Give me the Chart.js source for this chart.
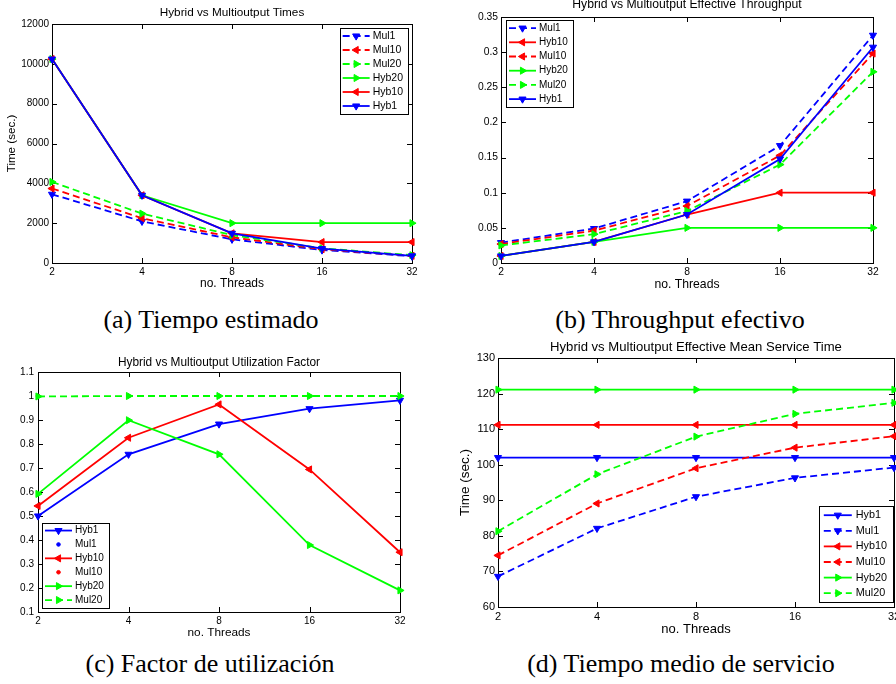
<!DOCTYPE html>
<html>
<head>
<meta charset="utf-8">
<script src="https://cdn.jsdelivr.net/npm/chart.js@4.4.1/dist/chart.umd.min.js"></script>
<style>
  html, body { margin: 0; padding: 0; background: #fff; overflow: hidden; }
  body { position: relative; width: 896px; height: 684px; }
  canvas { position: absolute; }
  .caption {
    position: absolute; width: 400px; text-align: center;
    font-family: "Liberation Serif", "DejaVu Serif", serif;
    font-size: 26px; line-height: 30px; color: #000; white-space: nowrap;
  }
</style>
</head>
<body>
<canvas id="timesChart" width="448" height="300" style="left:0;top:0"></canvas>
<canvas id="throughputChart" width="448" height="303" style="left:448px;top:-3px"></canvas>
<canvas id="utilizationChart" width="448" height="300" style="left:0;top:340px"></canvas>
<canvas id="serviceChart" width="460" height="302" style="left:448px;top:338px"></canvas>

<div class="caption" style="left:11px;top:305px">(a) Tiempo estimado</div>
<div class="caption" style="left:480px;top:305px">(b) Throughput efectivo</div>
<div class="caption" style="left:10px;top:649px">(c) Factor de utilización</div>
<div class="caption" style="left:481px;top:649px">(d) Tiempo medio de servicio</div>

<script>
const threads = ['2', '4', '8', '16', '32'];

// (a) estimated time (sec.)
const timeMul1 = [3450, 2090, 1190, 650, 340];
const timeMul10 = [3740, 2250, 1290, 690, 360];
const timeMul20 = [4070, 2480, 1400, 740, 390];
const timeHyb20 = [10240, 3400, 2000, 2000, 2000];
const timeHyb10 = [10240, 3400, 1490, 1050, 1050];
const timeHyb1 = [10240, 3400, 1490, 720, 360];

// (b) effective throughput
const thrMul1 = [0.029, 0.049, 0.088, 0.167, 0.324];
const thrHyb10 = [0.01, 0.03, 0.069, 0.1, 0.1];
const thrMul10 = [0.027, 0.046, 0.081, 0.153, 0.298];
const thrHyb20 = [0.01, 0.03, 0.05, 0.05, 0.05];
const thrMul20 = [0.025, 0.041, 0.074, 0.14, 0.272];
const thrHyb1 = [0.01, 0.03, 0.069, 0.148, 0.307];

// (c) utilization factor
const utilHyb1 = [0.5, 0.757, 0.883, 0.947, 0.982];
const utilMul1 = [1, 1, 1, 1, 1];
const utilHyb10 = [0.542, 0.826, 0.965, 0.694, 0.349];
const utilMul10 = [1, 1, 1, 1, 1];
const utilHyb20 = [0.592, 0.899, 0.757, 0.379, 0.19];
const utilMul20 = [0.998, 1, 1, 1, 1];

// (d) effective mean service time (sec.)
const svcHyb1 = [102, 102, 102, 102, 102];
const svcMul1 = [68.6, 82.1, 91.0, 96.3, 99.2];
const svcHyb10 = [111.2, 111.2, 111.2, 111.2, 111.2];
const svcMul10 = [74.5, 89.1, 99.0, 104.8, 108.0];
const svcHyb20 = [121.1, 121.1, 121.1, 121.1, 121.1];
const svcMul20 = [81.3, 97.3, 107.9, 114.3, 117.4];

const BLUE = '#0000ff', RED = '#ff0000', GREEN = '#00ff00';
const SANS = '"Liberation Sans", Arial, Helvetica, sans-serif';

const markerRotation = { down: 180, left: 270, right: 90 };

function series(label, data, color, marker, dashed) {
  const dot = marker === 'dot';
  return {
    label: label,
    data: data,
    borderColor: color,
    backgroundColor: color,
    pointBackgroundColor: color,
    pointBorderColor: color,
    pointBorderWidth: 1,
    borderWidth: 1.8,
    borderDash: dashed ? [7, 4] : [],
    showLine: !dot,
    pointStyle: dot ? 'circle' : 'triangle',
    pointRotation: dot ? 0 : markerRotation[marker],
    pointRadius: dot ? 1.8 : 4.1,
    tension: 0,
    clip: false,
  };
}

// box around the plot with inward tick marks on all four sides
const boxAxesPlugin = {
  id: 'boxAxes',
  beforeDatasetsDraw(chart) {
    const { ctx, chartArea: a, scales } = chart;
    const len = 5;
    ctx.save();
    ctx.strokeStyle = '#000';
    ctx.lineWidth = 1;
    ctx.beginPath();
    scales.x.ticks.forEach((t, i) => {
      const px = Math.round(scales.x.getPixelForTick(i)) + 0.5;
      ctx.moveTo(px, a.bottom); ctx.lineTo(px, a.bottom - len);
      ctx.moveTo(px, a.top); ctx.lineTo(px, a.top + len);
    });
    scales.y.ticks.forEach((t, i) => {
      const py = Math.round(scales.y.getPixelForTick(i)) + 0.5;
      ctx.moveTo(a.left, py); ctx.lineTo(a.left + len, py);
      ctx.moveTo(a.right, py); ctx.lineTo(a.right - len, py);
    });
    ctx.stroke();
    ctx.strokeRect(Math.round(a.left) + 0.5, Math.round(a.top) + 0.5,
      Math.round(a.width), Math.round(a.height));
    ctx.restore();
  }
};

// legend box drawn inside the plot area
const insetLegendPlugin = {
  id: 'insetLegend',
  afterDraw(chart, args, opts) {
    const { ctx, chartArea: a } = chart;
    const sets = chart.data.datasets;
    ctx.save();
    ctx.font = opts.fontSize + 'px ' + SANS;
    const textW = Math.max(...sets.map(d => ctx.measureText(d.label).width));
    const rowH = opts.rowHeight;
    const w = opts.padLeft + opts.sample + opts.gap + textW + opts.padRight;
    const h = rowH * sets.length + opts.padV;
    const x = opts.corner.includes('e') ? a.right - opts.dx - w : a.left + opts.dx;
    const y = opts.corner.includes('n') ? a.top + opts.dy : a.bottom - opts.dy - h;
    ctx.fillStyle = '#fff';
    ctx.fillRect(x, y, w, h);
    ctx.strokeStyle = '#000';
    ctx.lineWidth = 1;
    ctx.strokeRect(Math.round(x) + 0.5, Math.round(y) + 0.5, Math.round(w), Math.round(h));
    sets.forEach((d, i) => {
      const cy = y + opts.padV / 2 + rowH * (i + 0.5);
      const x0 = x + opts.padLeft, x1 = x0 + opts.sample;
      if (d.showLine !== false) {
        ctx.setLineDash(d.borderDash);
        ctx.strokeStyle = d.borderColor;
        ctx.lineWidth = d.borderWidth;
        ctx.beginPath(); ctx.moveTo(x0, cy); ctx.lineTo(x1, cy); ctx.stroke();
        ctx.setLineDash([]);
      }
      ctx.fillStyle = d.pointBackgroundColor;
      ctx.strokeStyle = d.pointBorderColor;
      ctx.lineWidth = 1;
      Chart.helpers.drawPoint(ctx, {
        pointStyle: d.pointStyle, rotation: d.pointRotation,
        radius: d.pointRadius, borderWidth: 1
      }, (x0 + x1) / 2, cy);
      ctx.fillStyle = '#000';
      ctx.textBaseline = 'middle';
      ctx.textAlign = 'left';
      ctx.fillText(d.label, x1 + opts.gap, cy);
    });
    ctx.restore();
  }
};

// cfg.titleY / cfg.plotTop are canvas coordinates of the title centre and the plot top
function makeChart(canvasId, cfg) {
  const canvas = document.getElementById(canvasId);
  if (!canvas) return;
  const f = cfg.fonts;
  const titleTop = cfg.titleY - 0.6 * f.title;
  const titleBottom = cfg.plotTop - titleTop - 1.2 * f.title;
  const sets = cfg.datasets.map((d, i, arr) => Object.assign(d, { order: arr.length - i }));
  return new Chart(canvas.getContext('2d'), {
    type: 'line',
    data: { labels: threads, datasets: sets },
    options: {
      responsive: false,
      animation: false,
      events: [],
      layout: { padding: { left: 0, right: cfg.padRight, top: 0, bottom: 0 } },
      plugins: {
        legend: { display: false },
        tooltip: { enabled: false },
        title: {
          display: true,
          text: cfg.title,
          fullSize: false,
          color: '#000',
          font: { family: SANS, size: f.title, weight: 'normal' },
          padding: { top: titleTop, bottom: titleBottom },
        },
        insetLegend: cfg.legend,
      },
      scales: {
        x: {
          offset: false,
          grid: { display: false, drawTicks: false },
          border: { display: false },
          ticks: { color: '#000', font: { family: SANS, size: f.ticks }, padding: 3, autoSkip: false, maxRotation: 0 },
          title: {
            display: true, text: 'no. Threads', color: '#000',
            font: { family: SANS, size: f.axis }, padding: { top: 0, bottom: cfg.xTitleBottom },
          },
          afterFit: s => { s.height = cfg.xHeight; },
        },
        y: {
          min: cfg.yMin,
          max: cfg.yMax,
          grid: { display: false, drawTicks: false },
          border: { display: false },
          ticks: {
            stepSize: cfg.yStep, color: '#000', font: { family: SANS, size: f.ticks },
            padding: cfg.yTickPad, callback: v => String(parseFloat(v.toFixed(6))),
          },
          title: {
            display: !!cfg.yTitle, text: cfg.yTitle || '', color: '#000',
            font: { family: SANS, size: f.yTitle || f.axis }, padding: { top: cfg.yTitleTop || 0, bottom: 0 },
          },
          afterFit: s => { s.width = cfg.yWidth; },
        },
      },
    },
    plugins: [boxAxesPlugin, insetLegendPlugin],
  });
}

const legendBase = { padLeft: 3, sample: 27, gap: 3, padRight: 5, padV: 2, fontSize: 10 };

document.addEventListener('DOMContentLoaded', function () {
  makeChart('timesChart', {
    title: 'Hybrid vs Multioutput Times',
    fonts: { title: 11.75, axis: 12, yTitle: 11.6, ticks: 10 },
    titleY: 13, plotTop: 24,
    yTitle: 'Time (sec.)', yTitleTop: 5,
    yMin: 0, yMax: 12000, yStep: 2000,
    yWidth: 52, yTickPad: 3, xHeight: 37, xTitleBottom: 8.8, padRight: 36,
    legend: Object.assign({}, legendBase, { corner: 'ne', dx: 4, dy: 4, rowHeight: 14, fontSize: 10.5 }),
    datasets: [
      series('Mul1', timeMul1, BLUE, 'down', true),
      series('Mul10', timeMul10, RED, 'left', true),
      series('Mul20', timeMul20, GREEN, 'right', true),
      series('Hyb20', timeHyb20, GREEN, 'right', false),
      series('Hyb10', timeHyb10, RED, 'left', false),
      series('Hyb1', timeHyb1, BLUE, 'down', false),
    ],
  });

  makeChart('throughputChart', {
    title: 'Hybrid vs Multioutput Effective Throughput',
    fonts: { title: 12.2, axis: 12.2, ticks: 10.3 },
    titleY: 8, plotTop: 20,
    yMin: 0, yMax: 0.35, yStep: 0.05,
    yWidth: 53, yTickPad: 3, xHeight: 37, xTitleBottom: 7.7, padRight: 23,
    legend: Object.assign({}, legendBase, { corner: 'nw', dx: 5, dy: 3, rowHeight: 14.2 }),
    datasets: [
      series('Mul1', thrMul1, BLUE, 'down', true),
      series('Hyb10', thrHyb10, RED, 'left', false),
      series('Mul10', thrMul10, RED, 'left', true),
      series('Hyb20', thrHyb20, GREEN, 'right', false),
      series('Mul20', thrMul20, GREEN, 'right', true),
      series('Hyb1', thrHyb1, BLUE, 'down', false),
    ],
  });

  makeChart('utilizationChart', {
    title: 'Hybrid vs Multioutput Utilization Factor',
    fonts: { title: 11.85, axis: 11.8, ticks: 10 },
    titleY: 23, plotTop: 32,
    yMin: 0.1, yMax: 1.1, yStep: 0.1,
    yWidth: 38, yTickPad: 4, xHeight: 28, xTitleBottom: 0, padRight: 48,
    legend: Object.assign({}, legendBase, { corner: 'sw', dx: 4, dy: 4, rowHeight: 13.9 }),
    datasets: [
      series('Hyb1', utilHyb1, BLUE, 'down', false),
      series('Mul1', utilMul1, BLUE, 'dot', false),
      series('Hyb10', utilHyb10, RED, 'left', false),
      series('Mul10', utilMul10, RED, 'dot', false),
      series('Hyb20', utilHyb20, GREEN, 'right', false),
      series('Mul20', utilMul20, GREEN, 'right', true),
    ],
  });

  makeChart('serviceChart', {
    title: 'Hybrid vs Multioutput Effective Mean Service Time',
    fonts: { title: 13.1, axis: 13, yTitle: 13.5, ticks: 11 },
    titleY: 9, plotTop: 20,
    yTitle: 'Time (sec.)', yTitleTop: 8.9,
    yMin: 60, yMax: 130, yStep: 10,
    yWidth: 50, yTickPad: 3, xHeight: 33, xTitleBottom: 3.2, padRight: 14,
    legend: Object.assign({}, legendBase, { corner: 'se', dx: 1, dy: 5, rowHeight: 15.6, padLeft: 5, sample: 28, gap: 4, padRight: 6, fontSize: 10.8 }),
    datasets: [
      series('Hyb1', svcHyb1, BLUE, 'down', false),
      series('Mul1', svcMul1, BLUE, 'down', true),
      series('Hyb10', svcHyb10, RED, 'left', false),
      series('Mul10', svcMul10, RED, 'left', true),
      series('Hyb20', svcHyb20, GREEN, 'right', false),
      series('Mul20', svcMul20, GREEN, 'right', true),
    ],
  });
});
</script>
</body>
</html>
